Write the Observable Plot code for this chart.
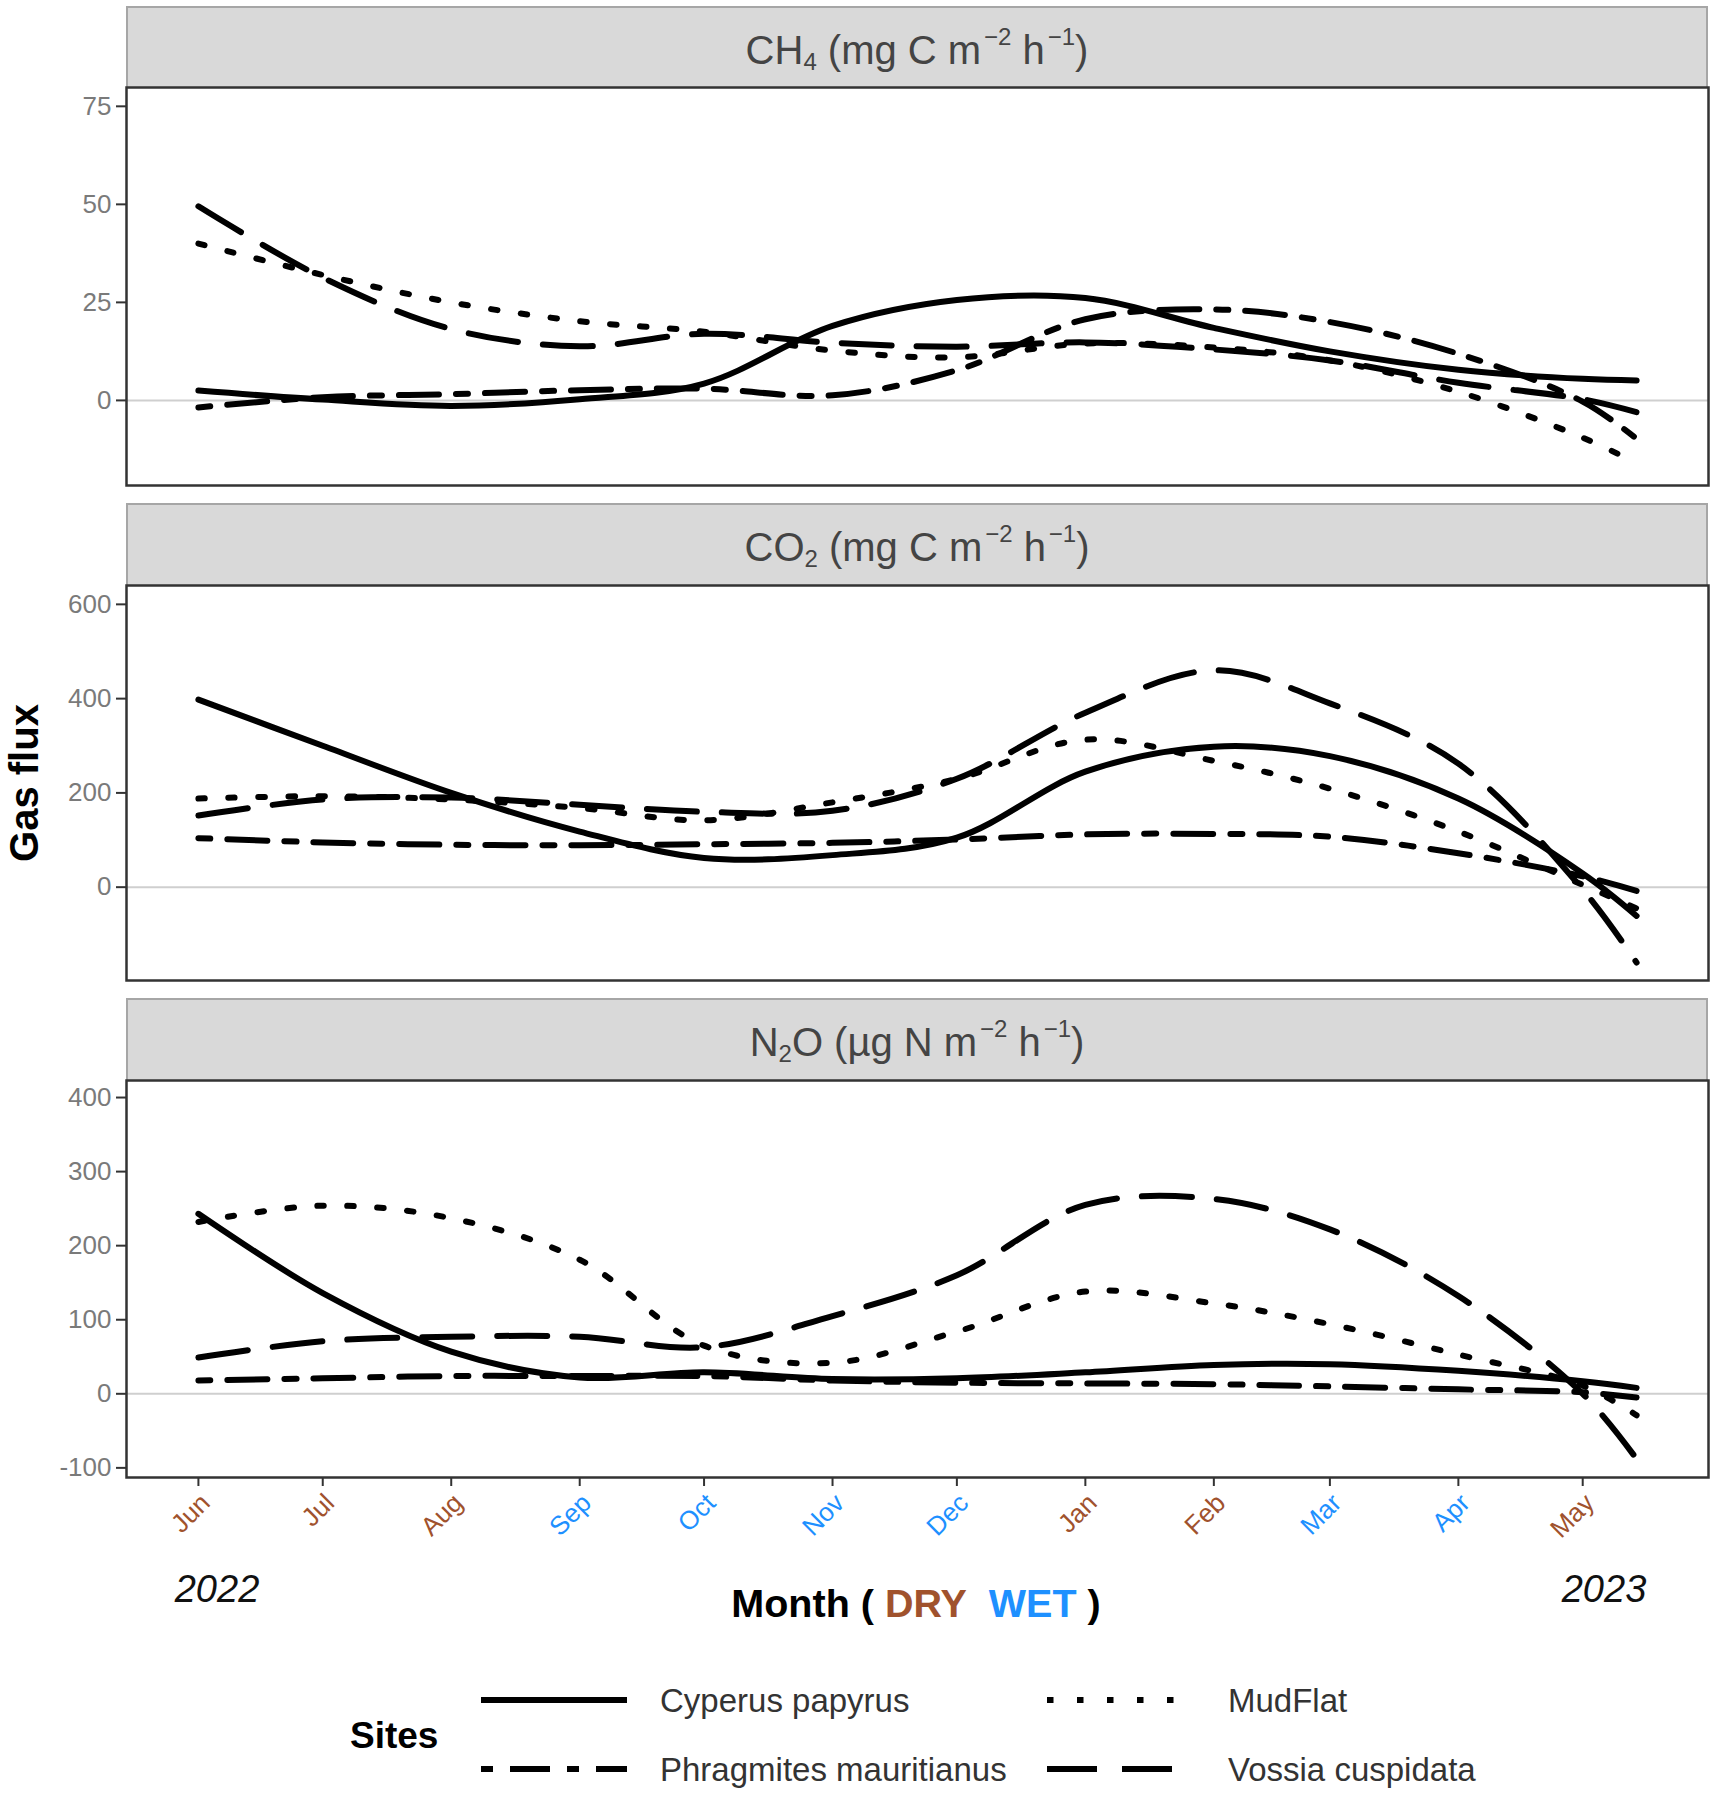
<!DOCTYPE html>
<html><head><meta charset="utf-8">
<script src="https://cdn.jsdelivr.net/npm/d3@7"></script>
<script src="https://cdn.jsdelivr.net/npm/@observablehq/plot@0.6"></script>
<style>
body{margin:0;background:#fff;}
#chart{position:relative;width:1723px;height:1795px;font-family:"Liberation Sans",Arial,sans-serif;overflow:hidden;}
.strip{position:absolute;left:126px;width:1582px;background:#d9d9d9;border:2px solid #a6a6a6;border-bottom:none;box-sizing:border-box;display:flex;align-items:center;justify-content:center;font-size:40px;color:#444;line-height:1;}
.strip sub{font-size:0.6em;vertical-align:-0.25em;}
.strip sup{font-size:0.6em;vertical-align:0.8em;margin-left:0.12em;}
.c{position:absolute;transform:translate(-50%,-50%);white-space:nowrap;line-height:1;}
.l{position:absolute;transform:translate(0,-50%);white-space:nowrap;line-height:1;}
.panel{position:absolute;left:0;}
</style></head><body><div id="chart"></div>
<script>
// ---------- data ----------
const sampleDates = ["2022-06-01","2022-07-01","2022-08-01","2022-09-01","2022-10-01","2022-11-01","2022-12-01","2023-01-01","2023-02-01","2023-03-01","2023-04-01","2023-05-01","2023-05-14"];

const sites = ["Cyperus papyrus","Phragmites mauritianus","MudFlat","Vossia cuspidata"];

const ch4_cyperus    = [2.5, 0.2, -1.4, 0.3, 4.3, 19, 25.6, 26.1, 18.5, 12.5, 7.8, 5.5, 5.1];
const ch4_phragmites = [-1.8, 0.8, 1.6, 2.6, 3.0, 1.3, 7.7, 20.7, 23.2, 20.0, 11.9, -0.3, -9.8];
const ch4_mudflat    = [40, 32, 25, 20.2, 17.5, 12.7, 11, 14.5, 13.5, 10.2, 2.2, -9.5, -16];
const ch4_vossia     = [49.5, 31.3, 18.2, 13.8, 17, 14.7, 13.7, 14.8, 13, 10.2, 4.5, 0.3, -3];

const co2_cyperus    = [398, 300, 200, 118, 62, 68, 105, 245, 298, 278, 188, 29, -61];
const co2_phragmites = [104, 95, 90, 89, 91, 94, 101, 112, 113, 107, 72, 23, -8];
const co2_mudflat    = [188, 193, 186, 168, 142, 180, 230, 313, 268, 209, 118, 5, -45];
const co2_vossia     = [152, 186, 190, 175, 160, 162, 230, 370, 460, 390, 262, -5, -160];

const n2o_cyperus    = [243, 136, 57, 22, 29, 20, 21, 29, 39, 40, 31, 17, 8];
const n2o_phragmites = [18, 21, 24, 24, 24, 18, 15, 14, 13, 10, 6, 2, -5];
const n2o_mudflat    = [232, 254, 237, 181, 65, 42, 84, 138, 122, 94, 53, 11, -29];
const n2o_vossia     = [49, 71, 77, 77, 63, 105, 160, 255, 263, 222, 132, 0, -88];

const monthTickDates = ["2022-06-01","2022-07-01","2022-08-01","2022-09-01","2022-10-01","2022-11-01","2022-12-01","2023-01-01","2023-02-01","2023-03-01","2023-04-01","2023-05-01"];
const monthLabels = ["Jun","Jul","Aug","Sep","Oct","Nov","Dec","Jan","Feb","Mar","Apr","May"];
const monthSeason = ["DRY","DRY","DRY","WET","WET","WET","WET","DRY","DRY","WET","WET","DRY"];

const ch4Ticks = [0, 25, 50, 75];
const co2Ticks = [0, 200, 400, 600];
const n2oTicks = [-100, 0, 100, 200, 300, 400];

// ---------- styles ----------
const seasonColor = {DRY: "#A0522D", WET: "#1E90FF"};
const siteDash = {
  "Cyperus papyrus": null,
  "Phragmites mauritianus": "12,17,40,17",
  "MudFlat": "6.5,23.5",
  "Vossia cuspidata": "50,25"
};

const parse = s => new Date(s + "T00:00:00Z");
const dates = sampleDates.map(parse);
const tickDates = monthTickDates.map(parse);
const t0 = dates[0].getTime(), t1 = dates[dates.length - 1].getTime();
const pad = (t1 - t0) * 0.05;
const xDomain = [new Date(t0 - pad), new Date(t1 + pad)];

function rows(values){ return values.map((v, i) => ({date: dates[i], value: v})); }

const gases = [
  {title: 'CH<sub>4</sub>&nbsp;(mg C m<sup>−2</sup> h<sup>−1</sup>)', series: [ch4_cyperus, ch4_phragmites, ch4_mudflat, ch4_vossia], ticks: ch4Ticks, domain: [-21.7, 79.8], stripTop: 6, top: 87, bottom: 485},
  {title: 'CO<sub>2</sub>&nbsp;(mg C m<sup>−2</sup> h<sup>−1</sup>)', series: [co2_cyperus, co2_phragmites, co2_mudflat, co2_vossia], ticks: co2Ticks, domain: [-198, 640], stripTop: 503, top: 585, bottom: 980},
  {title: 'N<sub>2</sub>O (µg N m<sup>−2</sup> h<sup>−1</sup>)', series: [n2o_cyperus, n2o_phragmites, n2o_mudflat, n2o_vossia], ticks: n2oTicks, domain: [-113, 423], stripTop: 998, top: 1080, bottom: 1477}
];

const chart = document.getElementById("chart");
const FONT = '"Liberation Sans", Arial, sans-serif';

gases.forEach((g, gi) => {
  const strip = document.createElement("div");
  strip.className = "strip";
  strip.style.top = g.stripTop + "px";
  strip.style.height = (g.top - g.stripTop) + "px";
  strip.innerHTML = '<span style="position:relative;top:2px">' + g.title + '</span>';
  chart.appendChild(strip);

  const last = gi === gases.length - 1;
  const mt = 4, mb = last ? 130 : 4;
  const marks = [
    Plot.ruleY([0], {stroke: "#cfcfcf", strokeWidth: 2}),
    ...g.series.map((vals, si) => Plot.line(rows(vals), {
      x: "date", y: "value", curve: "catmull-rom",
      stroke: "black", strokeWidth: 6,
      strokeDasharray: siteDash[sites[si]] || undefined
    })),
    Plot.frame({stroke: "#333", strokeWidth: 2.5}),
    Plot.axisY({ticks: g.ticks, tickSize: 10, tickPadding: 5, tickFormat: d => String(d),
      fontSize: 26, fill: "#7a7a7a", stroke: "#333", strokeWidth: 2, label: null})
  ];
  if (last) {
    marks.push(Plot.axisX({ticks: tickDates, tickSize: 9, tickFormat: () => "", stroke: "#333", strokeWidth: 2, label: null}));
    marks.push(Plot.text(tickDates, {
      x: d => d, text: (d, i) => monthLabels[i], fill: (d, i) => seasonColor[monthSeason[i]],
      frameAnchor: "bottom", dy: 14, rotate: -45, textAnchor: "end", lineAnchor: "top", fontSize: 26
    }));
  }
  const svg = Plot.plot({
    width: 1723,
    height: (g.bottom - g.top) + mt + mb,
    marginLeft: 126, marginRight: 15, marginTop: mt, marginBottom: mb,
    style: {fontFamily: FONT, fontSize: "26px", background: "transparent", overflow: "visible"},
    x: {type: "utc", domain: xDomain, axis: last ? undefined : null},
    y: {domain: g.domain},
    color: {type: "identity"},
    marks
  });
  svg.classList.add("panel");
  svg.style.top = (g.top - mt) + "px";
  chart.appendChild(svg);
});

function addText(html, x, y, css, cls){
  const d = document.createElement("div");
  d.className = cls || "c";
  d.style.left = x + "px"; d.style.top = y + "px";
  d.style.cssText += css;
  d.innerHTML = html;
  chart.appendChild(d);
}

addText("Gas flux", 24, 783, "font-weight:bold;font-size:40px;color:#000;transform:translate(-50%,-50%) rotate(-90deg);");
addText("2022", 217, 1589, "font-style:italic;font-size:38px;color:#111;");
addText("2023", 1604, 1589, "font-style:italic;font-size:38px;color:#111;");
addText('Month ( <span style="color:' + seasonColor.DRY + '">DRY</span>&nbsp; <span style="color:' + seasonColor.WET + '">WET</span> )', 916, 1604, "font-weight:bold;font-size:39.5px;color:#000;");

// ---------- legend ----------
const legendItems = [
  {site: "Cyperus papyrus", kx: 481, tx: 660, y: 1700},
  {site: "MudFlat", kx: 1047, tx: 1228, y: 1700},
  {site: "Phragmites mauritianus", kx: 481, tx: 660, y: 1769},
  {site: "Vossia cuspidata", kx: 1047, tx: 1228, y: 1769}
];
addText("Sites", 350, 1735, "font-weight:bold;font-size:37px;color:#000;", "l");
const ns = "http://www.w3.org/2000/svg";
const lsvg = document.createElementNS(ns, "svg");
lsvg.setAttribute("width", 1723); lsvg.setAttribute("height", 200);
lsvg.style.position = "absolute"; lsvg.style.left = "0px"; lsvg.style.top = "1640px";
legendItems.forEach(it => {
  const ln = document.createElementNS(ns, "line");
  ln.setAttribute("x1", it.kx); ln.setAttribute("x2", it.kx + 146);
  ln.setAttribute("y1", it.y - 1640); ln.setAttribute("y2", it.y - 1640);
  ln.setAttribute("stroke", "black"); ln.setAttribute("stroke-width", 6);
  if (siteDash[it.site]) ln.setAttribute("stroke-dasharray", siteDash[it.site]);
  lsvg.appendChild(ln);
  addText(it.site, it.tx, it.y, "font-size:33px;color:#333;", "l");
});
chart.appendChild(lsvg);
</script></body></html>
